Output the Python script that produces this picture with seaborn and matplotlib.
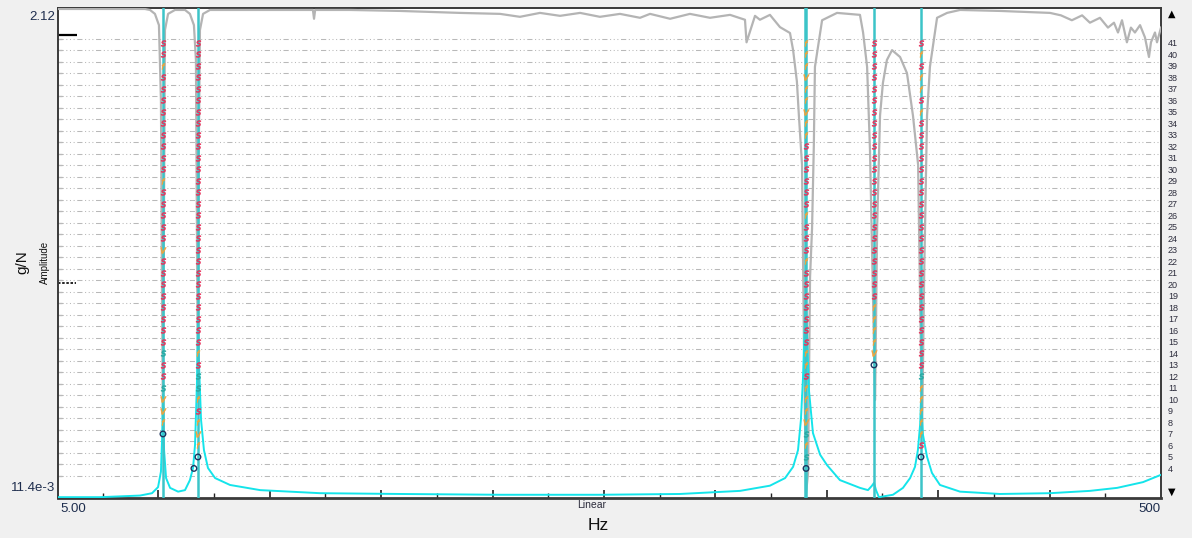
import numpy as np
import pandas as pd
import matplotlib
matplotlib.use("Agg")
import matplotlib.pyplot as plt
import matplotlib.transforms as mtransforms
from matplotlib.ticker import NullLocator, FixedLocator
import seaborn as sns

# ---------------- data ----------------
# FRF amplitude (g/N) versus frequency (Hz)
frf_freq = [5.0, 23.8, 41.8, 47.2, 49.9, 51.2, 51.7, 52.1, 52.6, 53.5,
            55.3, 58.9, 62.0, 64.2, 65.6, 66.5, 67.4, 67.8, 68.2, 69.2,
            70.5, 72.3, 75.5, 82.2, 95.7, 122.6, 158.5, 203.4, 248.2, 284.1,
            311.1, 324.5, 331.3, 334.9, 337.1, 338.4, 339.3, 340.2, 340.7, 341.1,
            342.0, 343.8, 347.0, 350.1, 355.9, 364.9, 368.5, 370.3, 371.2, 372.1,
            373.4, 379.7, 384.2, 387.4, 389.6, 390.9, 391.9, 392.3, 393.2, 395.0,
            397.2, 400.8, 409.8, 427.7, 450.2, 468.1, 480.3, 491.9, 500.0]
frf_amp = [0.0115, 0.0115, 0.0117, 0.0120, 0.0128, 0.0151, 0.0212, 0.0342, 0.0190, 0.0141,
           0.0127, 0.0122, 0.0124, 0.0138, 0.0157, 0.0201, 0.0402, 0.0761, 0.0497, 0.0262,
           0.0190, 0.0157, 0.0141, 0.0131, 0.0124, 0.0120, 0.0119, 0.0118, 0.0118, 0.0119,
           0.0123, 0.0130, 0.0141, 0.0159, 0.0190, 0.0262, 0.0402, 0.0761, 0.0942, 0.0684,
           0.0361, 0.0228, 0.0181, 0.0162, 0.0138, 0.0127, 0.0124, 0.0130, 0.0134, 0.0124,
           0.0115, 0.0118, 0.0127, 0.0141, 0.0159, 0.0190, 0.0249, 0.0324, 0.0223, 0.0177,
           0.0149, 0.0131, 0.0122, 0.0119, 0.0120, 0.0123, 0.0127, 0.0135, 0.0146]

# Coherence (0..1) versus frequency (Hz)
coh_freq = [5.0, 44.0, 46.3, 48.5, 50.3, 51.2, 51.7, 52.1, 52.6, 53.0,
            54.4, 57.5, 62.0, 64.2, 66.0, 66.9, 67.4, 67.8, 68.2, 68.7,
            70.1, 73.2, 110.0, 119.4, 119.9, 120.4, 136.0, 158.5, 172.0, 185.4,
            203.4, 212.3, 221.3, 230.3, 239.3, 248.2, 257.2, 266.2, 270.7, 279.7,
            288.6, 297.6, 306.6, 313.3, 314.0, 317.8, 320.0, 324.5, 329.0, 333.5,
            334.9, 336.6, 337.5, 338.9, 339.8, 340.7, 341.6, 342.5, 343.4, 344.2,
            344.7, 347.9, 354.6, 364.9, 366.3, 368.1, 369.4, 370.8, 371.7, 372.6,
            373.9, 375.2, 377.0, 379.3, 382.9, 386.0, 388.7, 391.0, 391.9, 392.8,
            393.7, 395.0, 396.3, 399.5, 404.0, 409.8, 427.8, 450.2, 455.1, 460.0,
            464.6, 468.1, 472.6, 476.2, 478.9, 480.7, 482.5, 484.7, 486.5, 488.3,
            490.6, 492.8, 494.6, 495.5, 497.3, 498.2, 500.0]
coh_val = [0.998, 0.998, 0.996, 0.988, 0.965, 0.81, 0.40, 0.16, 0.61, 0.955,
           0.988, 0.996, 0.996, 0.988, 0.965, 0.894, 0.506, 0.20, 0.71, 0.955,
           0.988, 0.996, 0.996, 0.996, 0.978, 0.996, 0.996, 0.994, 0.992, 0.990,
           0.988, 0.982, 0.990, 0.984, 0.990, 0.982, 0.988, 0.980, 0.988, 0.978,
           0.988, 0.980, 0.986, 0.976, 0.93, 0.984, 0.976, 0.986, 0.961, 0.949,
           0.914, 0.85, 0.78, 0.68, 0.30, 0.01, 0.05, 0.45, 0.55, 0.72,
           0.88, 0.975, 0.990, 0.986, 0.95, 0.88, 0.71, 0.40, 0.20, 0.55,
           0.78, 0.847, 0.894, 0.914, 0.90, 0.867, 0.78, 0.68, 0.40, 0.14,
           0.45, 0.78, 0.88, 0.98, 0.990, 0.996, 0.994, 0.99, 0.985, 0.975,
           0.985, 0.97, 0.98, 0.96, 0.97, 0.95, 0.975, 0.93, 0.96, 0.95,
           0.965, 0.94, 0.90, 0.93, 0.95, 0.93, 0.96]

# selected mode frequencies (Hz)
mode_freqs = [52.1, 67.8, 340.4, 340.9, 371.2, 392.3]

# stabilization diagram: one code string per pole column, from order 41 downward
# s = stable, f = frequency stable, v = vector stable, d = damping stable, o = new pole
stab_freq = [52.1, 67.8, 340.7, 371.2, 392.3]
stab_codes = [
    "ssfss" "sssss" "ssfss" "sssvs" "sssss" "ssdss" "dvvfo",
    "sssss" "sssss" "sssss" "sssss" "sssss" "ssfsd" "dfsf" "vfo",
    "fffvf" "fvffs" "sssss" "fsssf" "sssss" "ssffs" "fffvd" "fdo",
    "sssss" "sssss" "sssss" "sssss" "sssff" "ffvo",
    "sfsff" "sfsss" "sssss" "sssss" "sssss" "ssssd" "ffff" "fso",
]
top_order = 41
extra_freq = [66.0]
extra_order = [4]
extra_code = ["o"]

order_labels = list(range(4, 42))
grid_orders = list(range(3, 42))

# ---------------- build tables ----------------
rows = []
for f, codes in zip(stab_freq, stab_codes):
    for j, c in enumerate(codes):
        rows.append((f, top_order - j, c))
for f, o, c in zip(extra_freq, extra_order, extra_code):
    rows.append((f, o, c))
stab = pd.DataFrame(rows, columns=["freq", "order", "code"])

# ---------------- figure ----------------
plt.rcParams["font.family"] = ["Liberation Sans", "DejaVu Sans"]
fig = plt.figure(figsize=(11.92, 5.38), dpi=100, facecolor="#f0f0f0")
W, H = 1192.0, 538.0
L, R, T, B = 58, 1161, 8, 498
axA = fig.add_axes([L / W, 1 - B / H, (R - L) / W, (B - T) / H])
axA.set_facecolor("white")
axB = axA.twinx()   # coherence
axC = axA.twinx()   # FRF amplitude (log)
axD = axA.twinx()   # stability markers

ylo, yhi = 1.43, 44.04
for a in (axA, axD):
    a.set_ylim(ylo, yhi)
for a in (axA, axB, axC, axD):
    a.set_xlim(5, 500)

# grid rows of the stabilization diagram
axA.hlines([o + 0.35 for o in grid_orders], 5, 500, colors="#b9b9b9",
           linewidth=0.75, linestyles=[(0, (5, 2.5, 1, 2.5, 1, 2.5, 1, 2.5))])

# coherence
axB.set_ylim(0, 1.0)
sns.lineplot(x=coh_freq, y=coh_val, ax=axB, color="#b4b4b4", linewidth=1.6,
             estimator=None, sort=False)

# FRF amplitude
axC.set_yscale("log")
axC.set_ylim(0.0114, 2.12)
sns.lineplot(x=frf_freq, y=frf_amp, ax=axC, color="#14e4ea", linewidth=1.4,
             estimator=None, sort=False)
for f in mode_freqs:
    axC.axvline(f, color="#3cc4c8", linewidth=1.8, zorder=3)

# stability markers
marker_style = {
    "s": dict(marker="$s$", color="#e8305a", s=17),
    "f": dict(marker="$f$", color="#f2a23a", s=17),
    "v": dict(marker="$v$", color="#f2a23a", s=17),
    "d": dict(marker="$s$", color="#2aa8a0", s=17),
}
for code, st in marker_style.items():
    sub = stab[stab["code"] == code]
    if len(sub):
        sns.scatterplot(data=sub, x="freq", y="order", ax=axD, marker=st["marker"],
                        color=st["color"], s=st["s"], linewidth=0.4,
                        edgecolor=st["color"], legend=False, zorder=5)
sub = stab[stab["code"] == "o"]
sns.scatterplot(data=sub, x="freq", y="order", ax=axD, marker="o", s=16,
                facecolor="none", edgecolor="#1d3560", linewidth=1.0,
                legend=False, zorder=6)

# ---------------- axes styling ----------------
for a in (axB, axC, axD):
    for sp in a.spines.values():
        sp.set_visible(False)
    a.set_ylabel("")
    a.set_xlabel("")
for a in (axB, axD):
    a.set_yticks([])
axC.set_yticks([])
axC.yaxis.set_minor_locator(NullLocator())

for sp in axA.spines.values():
    sp.set_color("#3a3a3a")
    sp.set_linewidth(1.4)
axA.spines["bottom"].set_linewidth(2.0)

# right: model order labels; left: small row ticks
axA.yaxis.set_major_locator(FixedLocator(order_labels))
axA.set_yticklabels([str(o) for o in order_labels])
axA.yaxis.set_minor_locator(FixedLocator([o + 0.35 for o in grid_orders]))
axA.tick_params(axis="y", which="major", left=False, right=True, length=0,
                labelleft=False, labelright=True, labelsize=6.5, pad=5,
                labelcolor="#2c2c3c")
axA.tick_params(axis="y", which="minor", left=True, right=False, direction="in",
                length=3, width=0.8, color="#333333")

# bottom frequency ticks
axA.xaxis.set_major_locator(FixedLocator([50, 100, 150, 200, 250, 300, 350, 400, 450]))
axA.xaxis.set_minor_locator(FixedLocator([25, 75, 125, 175, 225, 275, 325, 375, 425, 475]))
axA.tick_params(axis="x", which="major", direction="in", length=6, width=1.2,
                color="#222222", labelbottom=False, top=False)
axA.tick_params(axis="x", which="minor", direction="in", length=3.5, width=1.0,
                color="#222222", top=False)
axA.set_xlabel("")
axA.set_ylabel("")

# cursor marks on the left spine
blend = mtransforms.blended_transform_factory(axA.transAxes, axA.transData)
axA.plot([0, 0.017], [41.7, 41.7], transform=blend, color="black", lw=1.6,
         solid_capstyle="butt", clip_on=False)
axA.plot([0, 0.016], [20.1, 20.1], transform=blend, color="black", lw=1.2,
         linestyle=(0, (1.5, 1)), clip_on=False)

# ---------------- texts ----------------
txtc = "#1e2d4d"
fig.text(55 / W, 1 - 17 / H, "2.12", ha="right", va="center", fontsize=9.5, color=txtc)
fig.text(55 / W, 1 - 488 / H, "11.4e-3", ha="right", va="center", fontsize=9.5, color=txtc)
fig.text(60 / W, 1 - 509 / H, "5.00", ha="left", va="center", fontsize=9.5, color=txtc)
fig.text(R / W, 1 - 509 / H, "500", ha="right", va="center", fontsize=9.5, color=txtc)
fig.text(592 / W, 1 - 505 / H, "Linear", ha="center", va="center", fontsize=7.5, color="#2c2c3c")
fig.text(598 / W, 1 - 525 / H, "Hz", ha="center", va="center", fontsize=12.5, color="#111111")
fig.text(22 / W, 1 - 262 / H, "g/N", ha="center", va="center", rotation=90, fontsize=11, color="#111111")
fig.text(45 / W, 1 - 262 / H, "Amplitude", ha="center", va="center", rotation=90, fontsize=7, color="#111111")
fig.text(1172 / W, 1 - 14 / H, "\u25b2", ha="center", va="center", fontsize=7, color="black",
         family=["DejaVu Sans"])
fig.text(1172 / W, 1 - 492 / H, "\u25bc", ha="center", va="center", fontsize=7, color="black",
         family=["DejaVu Sans"])

fig.savefig("out.png", dpi=100, facecolor=fig.get_facecolor())
